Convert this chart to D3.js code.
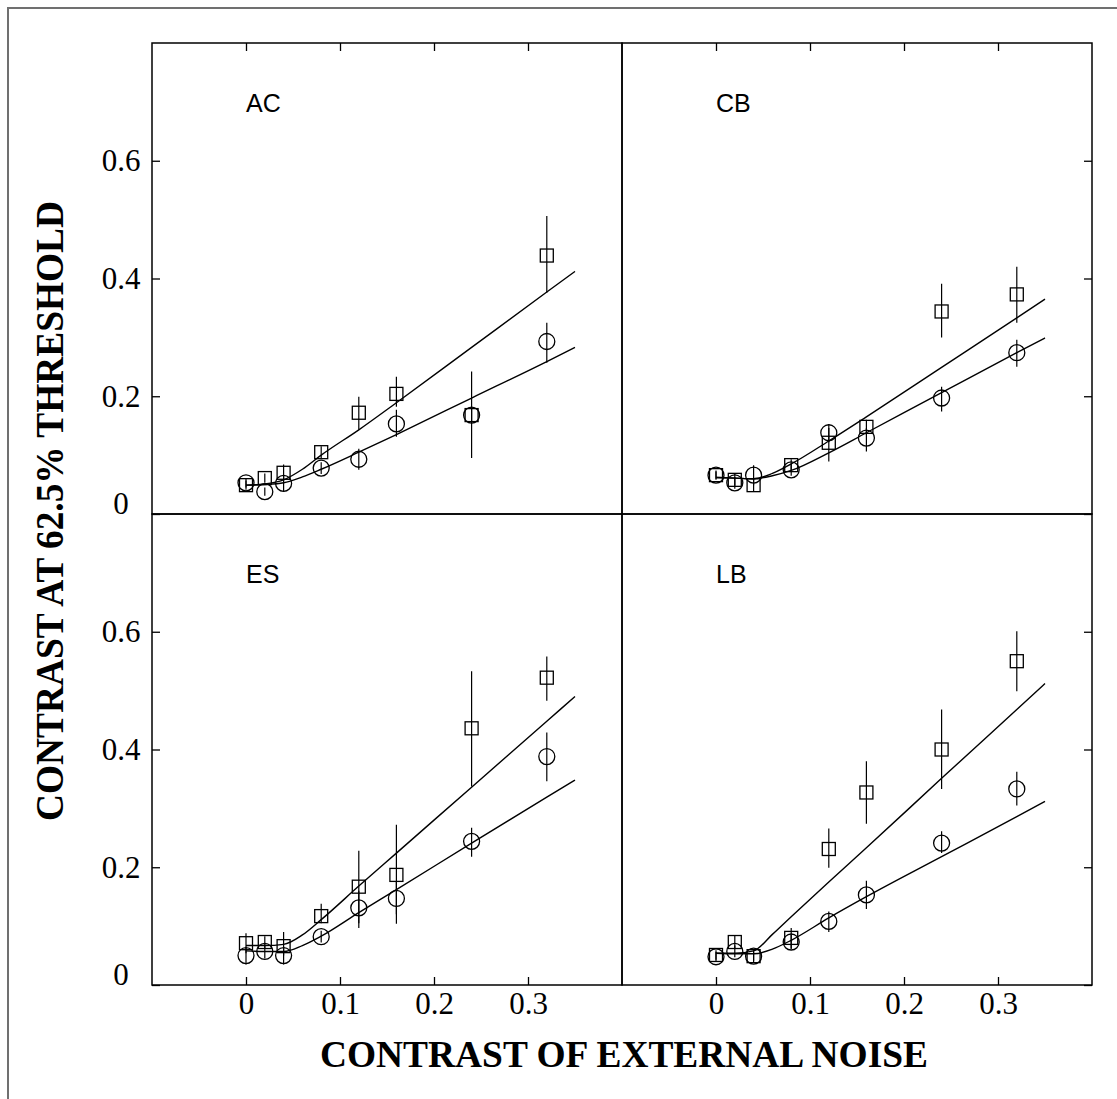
<!DOCTYPE html>
<html>
<head>
<meta charset="utf-8">
<script src="https://cdn.jsdelivr.net/npm/d3@7"></script>
<style>
  body { margin: 0; background: #fff; }
  svg { display: block; }
</style>
</head>
<body>
<script>
// x values of the measured points
let noise = [0, 0.02, 0.04, 0.08, 0.12, 0.16, 0.24, 0.32]
// x values where the fitted curves were read
let fitNoise = [0, 0.02, 0.04, 0.06, 0.08, 0.12, 0.16, 0.24, 0.32, 0.35]

let xTicks = [0, 0.1, 0.2, 0.3]
let yTicks = [0, 0.2, 0.4, 0.6]
let subjects = ['AC', 'CB', 'ES', 'LB']

// AC
let acSquare = [0.049, 0.061, 0.070, 0.105, 0.172, 0.204, 0.168, 0.439]
let acSquareErr = [[0.041, 0.057], [0.053, 0.069], [0.057, 0.084], [0.095, 0.115], [0.143, 0.199], [0.182, 0.233], [0.095, 0.242], [0.376, 0.506]]
let acCircle = [0.053, 0.038, 0.052, 0.078, 0.093, 0.153, 0.168, 0.293]
let acCircleErr = [[0.045, 0.061], [0.031, 0.045], [0.038, 0.066], [0.068, 0.088], [0.075, 0.111], [0.131, 0.177], [0.156, 0.180], [0.257, 0.325]]
let acSquareFit = [0.049, 0.051, 0.058, 0.076, 0.100, 0.143, 0.189, 0.283, 0.377, 0.412]
let acCircleFit = [0.049, 0.050, 0.053, 0.063, 0.076, 0.105, 0.135, 0.197, 0.259, 0.283]

// CB
let cbSquare = [0.066, 0.058, 0.049, 0.083, 0.121, 0.148, 0.344, 0.373]
let cbSquareErr = [[0.058, 0.074], [0.048, 0.068], [0.039, 0.059], [0.073, 0.093], [0.089, 0.146], [0.134, 0.160], [0.300, 0.391], [0.325, 0.420]]
let cbCircle = [0.066, 0.053, 0.066, 0.075, 0.138, 0.129, 0.197, 0.274]
let cbCircleErr = [[0.060, 0.072], [0.043, 0.063], [0.049, 0.083], [0.065, 0.085], [0.122, 0.153], [0.106, 0.146], [0.174, 0.216], [0.250, 0.296]]
let cbSquareFit = [0.062, 0.061, 0.060, 0.069, 0.085, 0.124, 0.165, 0.249, 0.333, 0.365]
let cbCircleFit = [0.062, 0.061, 0.060, 0.065, 0.074, 0.104, 0.138, 0.206, 0.274, 0.299]

// ES
let esSquare = [0.071, 0.073, 0.066, 0.117, 0.167, 0.187, 0.436, 0.522]
let esSquareErr = [[0.054, 0.088], [0.063, 0.083], [0.050, 0.090], [0.105, 0.138], [0.105, 0.228], [0.104, 0.272], [0.337, 0.533], [0.483, 0.558]]
let esCircle = [0.050, 0.057, 0.050, 0.082, 0.131, 0.147, 0.244, 0.388]
let esCircleErr = [[0.035, 0.065], [0.045, 0.069], [0.035, 0.065], [0.072, 0.092], [0.097, 0.160], [0.120, 0.175], [0.218, 0.267], [0.346, 0.429]]
let esSquareFit = [0.067, 0.067, 0.069, 0.085, 0.111, 0.168, 0.224, 0.336, 0.448, 0.490]
let esCircleFit = [0.058, 0.057, 0.057, 0.067, 0.083, 0.123, 0.162, 0.241, 0.319, 0.348]

// LB
let lbSquare = [0.051, 0.073, 0.049, 0.080, 0.231, 0.327, 0.400, 0.550]
let lbSquareErr = [[0.043, 0.059], [0.061, 0.085], [0.039, 0.059], [0.062, 0.097], [0.199, 0.266], [0.274, 0.380], [0.333, 0.468], [0.499, 0.601]]
let lbCircle = [0.048, 0.057, 0.049, 0.073, 0.108, 0.153, 0.241, 0.333]
let lbCircleErr = [[0.040, 0.056], [0.047, 0.067], [0.041, 0.057], [0.061, 0.085], [0.090, 0.125], [0.129, 0.177], [0.224, 0.261], [0.305, 0.362]]
let lbSquareFit = [0.054, 0.054, 0.058, 0.086, 0.116, 0.175, 0.233, 0.351, 0.468, 0.512]
let lbCircleFit = [0.054, 0.053, 0.053, 0.061, 0.076, 0.114, 0.150, 0.218, 0.286, 0.312]

let panels = [
  { name: subjects[0], col: 0, row: 0, sq: acSquare, sqErr: acSquareErr, ci: acCircle, ciErr: acCircleErr, sqFit: acSquareFit, ciFit: acCircleFit },
  { name: subjects[1], col: 1, row: 0, sq: cbSquare, sqErr: cbSquareErr, ci: cbCircle, ciErr: cbCircleErr, sqFit: cbSquareFit, ciFit: cbCircleFit },
  { name: subjects[2], col: 0, row: 1, sq: esSquare, sqErr: esSquareErr, ci: esCircle, ciErr: esCircleErr, sqFit: esSquareFit, ciFit: esCircleFit },
  { name: subjects[3], col: 1, row: 1, sq: lbSquare, sqErr: lbSquareErr, ci: lbCircle, ciErr: lbCircleErr, sqFit: lbSquareFit, ciFit: lbCircleFit },
]

let width = 1117, height = 1099
let margin = { left: 152, top: 43 }
let pw = 470, ph = 471
let serif = "'Liberation Serif', 'Times New Roman', serif"
let sans = "'Liberation Sans', Arial, sans-serif"
let fmt = d => d === 0 ? '0' : d3.format('.1f')(d)

const svg = d3.select('body').append('svg')
    .attr('width', width)
    .attr('height', height)

// outer grey frame (only left/top edges inside the picture)
svg.append('rect')
    .attr('x', 8).attr('y', 8)
    .attr('width', 1300).attr('height', 1300)
    .attr('fill', 'none')
    .attr('stroke', '#707070')
    .attr('stroke-width', 2)

function drawPanel(p) {
  let left = margin.left + p.col * pw
  let top = margin.top + p.row * ph

  let x = d3.scaleLinear().domain([-0.1, 0.4]).range([left, left + pw])
  let y = d3.scaleLinear().domain([0, 0.8]).range([top + ph, top])

  let g = svg.append('g')

  // x ticks: top edge for upper row, bottom edge with labels for lower row
  if (p.row === 0) {
    g.append('g')
        .attr('transform', `translate(0,${top})`)
        .call(d3.axisTop(x).tickValues(xTicks).tickSize(-8).tickFormat(''))
        .call(g => g.select('.domain').remove())
  } else {
    g.append('g')
        .attr('transform', `translate(0,${top + ph})`)
        .call(d3.axisBottom(x).tickValues(xTicks).tickSize(-8).tickPadding(7).tickFormat(fmt))
        .call(g => g.select('.domain').remove())
        .call(g => g.selectAll('text').style('font-family', serif).style('font-size', '31px').attr('fill', '#000'))
  }

  // y ticks: outer edge only, labels on the left column
  if (p.col === 0) {
    g.append('g')
        .attr('transform', `translate(${left},0)`)
        .call(d3.axisLeft(y).tickValues(yTicks).tickSize(-8).tickFormat(fmt))
        .call(g => g.select('.domain').remove())
        .call(g => g.selectAll('text')
          .style('font-family', serif).style('font-size', '31px').attr('fill', '#000')
          .attr('text-anchor', 'middle').attr('x', -31)
          .attr('dy', d => d === 0 ? '-0.03em' : '0.33em'))
  } else {
    g.append('g')
        .attr('transform', `translate(${left + pw},0)`)
        .call(d3.axisRight(y).tickValues(yTicks).tickSize(-8).tickFormat(''))
        .call(g => g.select('.domain').remove())
  }
  g.selectAll('.tick line').attr('stroke', '#000').attr('stroke-width', 1.3)

  g.append('rect')
      .attr('x', left).attr('y', top)
      .attr('width', pw).attr('height', ph)
      .attr('fill', 'none')
      .attr('stroke', '#000')
      .attr('stroke-width', 1.5)

  g.append('text')
      .text(p.name)
      .attr('x', x(0))
      .attr('y', y(0.683))
      .style('font-family', sans)
      .style('font-size', '25px')

  let line = d3.line()
      .x((d, i) => x(fitNoise[i]))
      .y(d => y(d))
      .curve(d3.curveMonotoneX)

  for (let fit of [p.sqFit, p.ciFit]) {
    g.append('path')
        .attr('d', line(fit))
        .attr('fill', 'none')
        .attr('stroke', '#000')
        .attr('stroke-width', 1.4)
  }

  // error bars
  for (let err of [p.sqErr, p.ciErr]) {
    g.append('g')
      .selectAll('line')
      .data(err)
      .join('line')
        .attr('x1', (d, i) => x(noise[i]))
        .attr('x2', (d, i) => x(noise[i]))
        .attr('y1', d => y(d[0]))
        .attr('y2', d => y(d[1]))
        .attr('stroke', '#000')
        .attr('stroke-width', 1.2)
  }

  g.append('g')
    .selectAll('circle')
    .data(p.ci)
    .join('circle')
      .attr('cx', (d, i) => x(noise[i]))
      .attr('cy', d => y(d))
      .attr('r', 8)
      .attr('fill', 'none')
      .attr('stroke', '#000')
      .attr('stroke-width', 1.3)

  let s = 13
  g.append('g')
    .selectAll('rect')
    .data(p.sq)
    .join('rect')
      .attr('x', (d, i) => x(noise[i]) - s / 2)
      .attr('y', d => y(d) - s / 2)
      .attr('width', s)
      .attr('height', s)
      .attr('fill', 'none')
      .attr('stroke', '#000')
      .attr('stroke-width', 1.3)
}

for (let p of panels) drawPanel(p)

svg.append('text')
    .text('CONTRAST OF EXTERNAL NOISE')
    .attr('x', 624)
    .attr('y', 1067)
    .attr('text-anchor', 'middle')
    .attr('textLength', 608)
    .attr('lengthAdjust', 'spacingAndGlyphs')
    .style('font-family', serif)
    .style('font-weight', 'bold')
    .style('font-size', '38px')

svg.append('text')
    .text('CONTRAST AT 62.5% THRESHOLD')
    .attr('transform', 'translate(63,511) rotate(-90)')
    .attr('text-anchor', 'middle')
    .attr('textLength', 620)
    .attr('lengthAdjust', 'spacingAndGlyphs')
    .style('font-family', serif)
    .style('font-weight', 'bold')
    .style('font-size', '40px')
</script>
</body>
</html>
